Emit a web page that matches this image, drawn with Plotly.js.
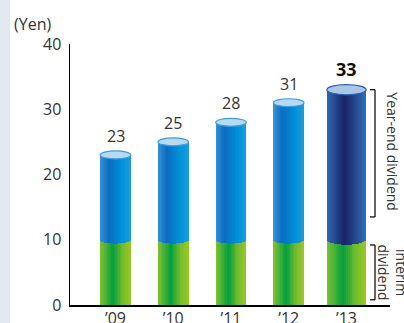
<!DOCTYPE html>
<html>
<head>
<meta charset="utf-8">
<script src="https://cdn.plot.ly/plotly-3.0.1.min.js"></script>
<style>
html,body{margin:0;padding:0;background:#fff;}
#chart{width:404px;height:323px;}
</style>
</head>
<body>
<div id="chart"></div>
<script>
// ---- data ----
const categories = ['\u201909', '\u201910', '\u201911', '\u201912', '\u201913'];
const interimDividend = [10, 10, 10, 10, 10];
const yearEndDividend = [13, 15, 18, 21, 23];
const yTickValues = [0, 10, 20, 30, 40];
const unitLabel = '(Yen)';
const yearEndLabel = 'Year-end dividend';
const interimLabel = 'Interim<br>dividend';
const highlightIndex = 4;

// ---- layout constants ----
const W = 404, H = 323;
const M = {l: 70, r: 14, t: 44, b: 18};
const plotW = W - M.l - M.r, plotH = H - M.t - M.b;
const pxPerCat = 57.75;
const xMin = -(115.5 - M.l) / pxPerCat;
const xMax = xMin + plotW / pxPerCat;
const yMax = 40;
const pxPerUnit = plotH / yMax;
const font = '"Open Sans", "Noto Sans", sans-serif';

const xs = categories.map((c, i) => i);
const totals = xs.map(i => interimDividend[i] + yearEndDividend[i]);
const barW = xs.map(i => i === highlightIndex ? 0.68 : 0.53);

function hex(c){return [1,3,5].map(k=>parseInt(c.substr(k,2),16));}
function grad(stops, u){
  for (let k=0;k<stops.length-1;k++){
    const [u0,c0]=stops[k],[u1,c1]=stops[k+1];
    if (u>=u0 && u<=u1){
      const t=(u-u0)/(u1-u0), a=hex(c0), b=hex(c1);
      return 'rgb('+a.map((v,j)=>Math.round(v+(b[j]-v)*t)).join(',')+')';
    }
  }
  return stops[stops.length-1][1];
}
const greenStops = [[0,'#86c12c'],[0.42,'#00a040'],[0.72,'#6fbb2c'],[1,'#9cc820']];
const blueStops  = [[0,'#3592da'],[0.3,'#0a6cbf'],[0.7,'#0090d8'],[1,'#1a9de0']];
const navyStops  = [[0,'#2c6cb8'],[0.45,'#1a2262'],[1,'#2e6fba']];

const N = 22;
const traces = [];
for (let k = 0; k < N; k++) {
  const u = (k + 0.5) / N;
  const s = 2 * u - 1;
  const curve = Math.sqrt(Math.max(0, 1 - s * s));
  const widths = barW.map(w => w / N * 1.25);
  const offsets = barW.map((w, i) => -w / 2 + k * w / N - (w / N) * 0.125);
  traces.push({
    type: 'bar', x: xs, y: interimDividend, base: xs.map(() => 0),
    width: widths, offset: offsets,
    marker: {color: xs.map(() => grad(greenStops, u)), line: {width: 0}},
    hoverinfo: 'skip', showlegend: false
  });
  const drop = barW.map(w => (0.125 * w * pxPerCat) / pxPerUnit * curve);
  traces.push({
    type: 'bar', x: xs,
    y: xs.map(i => yearEndDividend[i] + drop[i]),
    base: xs.map(i => interimDividend[i] - drop[i]),
    width: widths, offset: offsets,
    marker: {color: xs.map(i => grad(i === highlightIndex ? navyStops : blueStops, u)), line: {width: 0}},
    hoverinfo: 'skip', showlegend: false
  });
}

const shapes = [];
shapes.push({type:'rect', xref:'paper', yref:'paper', layer:'below',
  x0: -M.l / plotW, x1: (10 - M.l) / plotW, y0: -M.b / plotH, y1: (H - M.b) / plotH,
  fillcolor:'#e4e9f1', line:{width:0}});
xs.forEach(i => {
  const hpx = 0.26 * barW[i] * pxPerCat;
  const hi = i === highlightIndex;
  shapes.push({type:'circle', xref:'x', yref:'y', ysizemode:'pixel', yanchor: totals[i],
    x0: i - barW[i] / 2, x1: i + barW[i] / 2, y0: -hpx / 2, y1: hpx / 2,
    fillcolor: hi ? '#a9c8e8' : '#b5daf2', line: {color: hi ? '#2a62b0' : '#3d9be0', width: 1.2}});
});
const bx = (375 - M.l) / plotW, bx0 = (370 - M.l) / plotW;
const last = highlightIndex;
const yeTop = totals[last], yeBot = interimDividend[last] + 3.5;
const inTop = interimDividend[last] - 0.8, inBot = 0.8;
[[yeTop, yeBot], [inTop, inBot]].forEach(([a, b]) => {
  shapes.push({type:'line', xref:'paper', yref:'y', x0: bx, x1: bx, y0: a, y1: b, line:{color:'#111', width:1.3}});
  shapes.push({type:'line', xref:'paper', yref:'y', x0: bx0, x1: bx, y0: a, y1: a, line:{color:'#111', width:1.3}});
  shapes.push({type:'line', xref:'paper', yref:'y', x0: bx0, x1: bx, y0: b, y1: b, line:{color:'#111', width:1.3}});
});

const annotations = [];
xs.forEach(i => {
  const hi = i === highlightIndex;
  annotations.push({x: i, y: totals[i], xref:'x', yref:'y', text: hi ? '<b>' + totals[i] + '</b>' : String(totals[i]),
    showarrow:false, yanchor:'middle', yshift: hi ? 21 : 19,
    font:{family: font, size: hi ? 18 : 16, color: hi ? '#111' : '#333'}});
});
annotations.push({xref:'paper', yref:'paper', x: (12 - M.l) / plotW, y: (H - M.b - 24) / plotH,
  xanchor:'left', yanchor:'middle', text: unitLabel, showarrow:false,
  font:{family: font, size: 16, color:'#333'}});
annotations.push({xref:'paper', yref:'y', x: (393 - M.l) / plotW, y: (yeTop + yeBot) / 2 + 0.3,
  text: yearEndLabel, textangle: 90, showarrow:false, xanchor:'center', yanchor:'middle',
  font:{family: font, size: 14, color:'#333'}});
annotations.push({xref:'paper', yref:'y', x: (393 - M.l) / plotW, y: (inTop + inBot) / 2,
  text: interimLabel, textangle: 90, showarrow:false, xanchor:'center', yanchor:'middle',
  font:{family: font, size: 14, color:'#333'}});

const layout = {
  width: W, height: H, margin: M,
  paper_bgcolor:'#ffffff', plot_bgcolor:'#ffffff',
  barmode:'overlay', bargap: 0,
  showlegend:false,
  xaxis:{range:[xMin, xMax], tickvals: xs, ticktext: categories, showgrid:false, zeroline:false,
    showline:true, linecolor:'#000', linewidth:1.5, ticks:'', ticklabelstandoff:-2, fixedrange:true,
    tickfont:{family: font, size: 16, color:'#333'}},
  yaxis:{range:[0, yMax], tickvals: yTickValues, showgrid:false, zeroline:false,
    showline:true, linecolor:'#000', linewidth:1.5, ticks:'outside', ticklen:4, tickcolor:'rgba(0,0,0,0)',
    fixedrange:true, tickfont:{family: font, size: 16, color:'#333'}},
  shapes, annotations
};
Plotly.newPlot('chart', traces, layout, {displayModeBar:false, staticPlot:true});
</script>
</body>
</html>
